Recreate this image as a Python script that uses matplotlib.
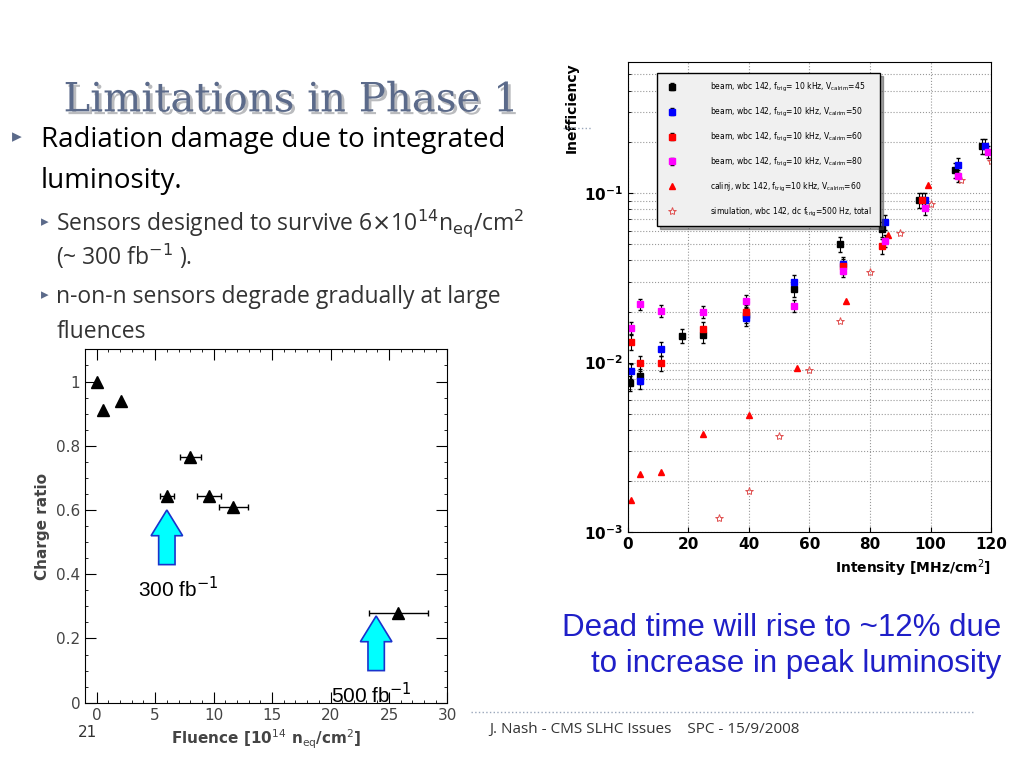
import numpy as np
import matplotlib.pyplot as plt
from matplotlib.patches import FancyArrow
import matplotlib.patheffects as pe

# left chart: charge ratio vs fluence
flu_x = [0.0, 0.5, 2.1, 6.0, 8.0, 9.6, 11.7, 25.8]
flu_y = [1.0, 0.91, 0.94, 0.645, 0.765, 0.645, 0.61, 0.28]
flu_err = [0, 0, 0, 0.6, 0.9, 1.0, 1.2, 2.5]

# right chart: inefficiency vs intensity
blk_x = [0.8, 4, 18, 25, 39, 55, 70, 84, 96, 108, 117]
blk_y = [0.0076, 0.0083, 0.0144, 0.0145, 0.019, 0.0271, 0.050, 0.0615, 0.0905, 0.137, 0.189]
blu_x = [1, 4, 11, 39, 55, 71, 85, 98, 109, 118]
blu_y = [0.0089, 0.0078, 0.0121, 0.0182, 0.030, 0.038, 0.0674, 0.0905, 0.146, 0.189]
red_x = [1, 4, 11, 25, 39, 71, 84, 97]
red_y = [0.0132, 0.0099, 0.0099, 0.0157, 0.020, 0.037, 0.0484, 0.0905]
mag_x = [1, 4, 11, 25, 39, 55, 71, 85, 98, 109, 119]
mag_y = [0.016, 0.0221, 0.0201, 0.0199, 0.0231, 0.0217, 0.0349, 0.0522, 0.081, 0.126, 0.174]
tri_x = [1, 4, 11, 25, 40, 56, 72, 86, 99]
tri_y = [0.00155, 0.0022, 0.00225, 0.0038, 0.0049, 0.0093, 0.023, 0.0568, 0.111]
sim_x = [30, 40, 50, 60, 70, 80, 90, 100, 110, 120]
sim_y = [0.00122, 0.00175, 0.0037, 0.009, 0.0175, 0.034, 0.058, 0.086, 0.119, 0.154]

fig = plt.figure(figsize=(10.24, 7.68), dpi=100)

# slide text
fig.text(0.062, 0.855, "Limitations in Phase 1", family="DejaVu Serif", fontsize=29,
         color="#5b6a8a", path_effects=[pe.withSimplePatchShadow(offset=(2, -2), alpha=0.3)])
fig.add_artist(plt.Line2D([0.55, 0.578], [0.833, 0.833], transform=fig.transFigure,
                          color="#9aa7bb", ls=":", lw=1))
fig.add_artist(plt.Line2D([0.46, 0.95], [0.073, 0.073], transform=fig.transFigure,
                          color="#9aa7bb", ls=":", lw=1))
fig.text(0.012, 0.815, "\u25b8", fontsize=14, color="#5b6a8a")
fig.text(0.040, 0.808, "Radiation damage due to integrated", family="Open Sans", fontsize=20)
fig.text(0.040, 0.755, "luminosity.", family="Open Sans", fontsize=20)
fig.text(0.040, 0.705, "\u25b8", fontsize=11, color="#5b6a8a")
fig.text(0.055, 0.700, r"Sensors designed to survive 6$\times$10$^{14}$n$_{\rm eq}$/cm$^{2}$",
         family="Open Sans", fontsize=16.5, color="#333333")
fig.text(0.055, 0.655, r"(~ 300 fb$^{-1}$ ).", family="Open Sans", fontsize=16.5, color="#333333")
fig.text(0.040, 0.610, "\u25b8", fontsize=11, color="#5b6a8a")
fig.text(0.055, 0.605, "n-on-n sensors degrade gradually at large", family="Open Sans", fontsize=16.5, color="#333333")
fig.text(0.055, 0.560, "fluences", family="Open Sans", fontsize=16.5, color="#333333")
fig.text(0.978, 0.172, "Dead time will rise to ~12% due", ha="right", family="Liberation Sans", fontsize=22.5, color="#1f1fc8")
fig.text(0.978, 0.125, "to increase in peak luminosity", ha="right", family="Liberation Sans", fontsize=22.5, color="#1f1fc8")
fig.text(0.478, 0.045, "J. Nash - CMS SLHC Issues    SPC - 15/9/2008", family="Open Sans", fontsize=11, color="#333333")
fig.text(0.076, 0.040, "21", fontsize=11, color="#333333")

# left axes
ax = fig.add_axes([0.083, 0.085, 0.354, 0.46])
ax.errorbar(flu_x, flu_y, xerr=flu_err, fmt="^", color="black", ms=8, capsize=2, elinewidth=1)
ax.set_xlim(-1, 30)
ax.set_ylim(0, 1.1)
ax.set_xticks([0, 5, 10, 15, 20, 25, 30])
ax.set_yticks([0, 0.2, 0.4, 0.6, 0.8, 1])
ax.set_yticklabels(["0", "0.2", "0.4", "0.6", "0.8", "1"])
ax.minorticks_on()
ax.tick_params(which="both", direction="in", top=True, right=True, labelsize=11, labelcolor="#444444")
ax.tick_params(which="major", length=8)
ax.set_xlabel(r"Fluence [10$^{14}$ n$_{\rm eq}$/cm$^{2}$]", fontsize=11, fontweight="bold", color="#444444")
ax.set_ylabel("Charge ratio", fontsize=11, fontweight="bold", color="#444444")
for xa, ytip, ybase in [(6.0, 0.6, 0.43), (23.9, 0.27, 0.1)]:
    ax.add_patch(FancyArrow(xa, ybase, 0, ytip - ybase, width=1.4, head_width=2.7,
                            head_length=0.08, length_includes_head=True,
                            fc="#00ffff", ec="#1a33cc", lw=1.2))
ax.text(3.5, 0.33, r"300 fb$^{-1}$", family="Liberation Sans", fontsize=15)
ax.text(20.0, 0.0, r"500 fb$^{-1}$", family="Liberation Sans", fontsize=15)

# right axes
ax2 = fig.add_axes([0.613, 0.307, 0.355, 0.612])
ax2.set_yscale("log")
ms = 5
h1 = ax2.errorbar(blk_x, blk_y, yerr=np.array(blk_y) * 0.1, fmt="s", color="black", ms=ms, capsize=1.5, elinewidth=0.8,
                  label=r"beam, wbc 142, f$_{\rm trig}$= 10 kHz, V$_{\rm calrim}$=45")
h2 = ax2.errorbar(blu_x, blu_y, yerr=np.array(blu_y) * 0.1, fmt="s", color="blue", ecolor="black", ms=ms, capsize=1.5, elinewidth=0.8,
                  label=r"beam, wbc 142, f$_{\rm trig}$=10 kHz, V$_{\rm calrim}$=50")
h3 = ax2.errorbar(red_x, red_y, yerr=np.array(red_y) * 0.1, fmt="s", color="red", ecolor="black", ms=ms, capsize=1.5, elinewidth=0.8,
                  label=r"beam, wbc 142, f$_{\rm trig}$=10 kHz, V$_{\rm calrim}$=60")
h4 = ax2.errorbar(mag_x, mag_y, yerr=np.array(mag_y) * 0.08, fmt="s", color="magenta", ecolor="black", ms=ms, capsize=1.5, elinewidth=0.8,
                  label=r"beam, wbc 142, f$_{\rm trig}$=10 kHz, V$_{\rm calrim}$=80")
h5, = ax2.plot(tri_x, tri_y, "^", color="red", ms=4, ls="none",
               label=r"calinj, wbc 142, f$_{\rm trig}$=10 kHz, V$_{\rm calrim}$=60")
h6, = ax2.plot(sim_x, sim_y, "*", mfc="none", mec="#e05050", ms=6, mew=0.7, ls="none",
               label=r"simulation, wbc 142, dc f$_{\rm trig}$=500 Hz, total")
ax2.set_xlim(0, 120)
ax2.set_ylim(1e-3, 0.59)
ax2.grid(True, which="both", ls=":", color="#999999", lw=0.8)
ax2.tick_params(which="both", direction="in", labelsize=11)
ax2.set_xticks([0, 20, 40, 60, 80, 100, 120])
for lab in ax2.get_xticklabels() + ax2.get_yticklabels():
    lab.set_fontweight("bold")
ax2.set_xlabel(r"Intensity [MHz/cm$^{2}$]", fontsize=10, fontweight="bold", loc="right")
ax2.set_ylabel("Inefficiency", fontsize=10, fontweight="bold", loc="top")
handles = [h1, h2, h3, h4, h5, h6]
leg = ax2.legend(handles=handles, labels=[h.get_label() for h in handles],
                 loc="upper left", bbox_to_anchor=(0.07, 0.985), fontsize=5.5, frameon=True,
                 fancybox=False, edgecolor="black", facecolor="#f0f0f0", labelspacing=1.55,
                 borderpad=1.0, handletextpad=4.0, shadow=True)

fig.savefig("out.png", dpi=100)
